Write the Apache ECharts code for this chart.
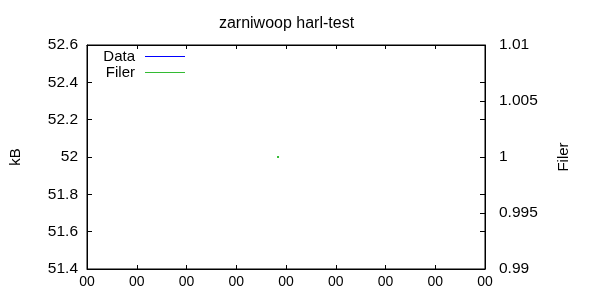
<!DOCTYPE html>
<html>
<head>
<meta charset="utf-8">
<script src="https://cdn.jsdelivr.net/npm/echarts@6/dist/echarts.min.js"></script>
<style>
html,body{margin:0;padding:0;background:#fff;}
#chart{width:600px;height:300px;}
</style>
</head>
<body>
<div id="chart"></div>
<script>
var titleText = 'zarniwoop harl-test';
var xTickLabels = ['00','00','00','00','00','00','00','00','00'];
var dataPoints = [[3.84, 52]];
var filerPoints = [[3.84, 1]];
var leftName = 'kB';
var rightName = 'Filer';

var FONT = 'Liberation Sans';
var chart = echarts.init(document.getElementById('chart'), null, {renderer:'canvas'});
var axisLineStyle = {color:'#000', width:1};
var option = {
  backgroundColor:'#fff',
  animation:false,
  title:{text:titleText, left:281.5, top:11, textAlign:'center',
    textStyle:{fontFamily:FONT, fontSize:16, fontWeight:'normal', color:'#000'}},
  legend:{
    orient:'vertical', left:93, top:44, align:'right',
    itemWidth:40, itemHeight:1, itemGap:1,
    icon:'rect',
    data:[{name:'Data'},{name:'Filer'}],
    textStyle:{fontFamily:FONT, fontSize:15, color:'#000', width:37, align:'right', padding:[0,5,0,0], lineHeight:15}
  },
  grid:{left:82, right:115, top:45, bottom:31, containLabel:false, show:true,
    borderColor:'#000', borderWidth:1, backgroundColor:'transparent'},
  xAxis:[{
    type:'value', min:0, max:8, interval:1, position:'bottom',
    axisLine:{show:true, onZero:false, lineStyle:axisLineStyle},
    axisTick:{show:true, inside:true, length:4, lineStyle:axisLineStyle},
    axisLabel:{show:true, margin:6, fontFamily:FONT, fontSize:14, color:'#000',
      formatter:function(v){ return xTickLabels[Math.round(v)]; }},
    splitLine:{show:false}
  },{
    type:'value', min:0, max:8, interval:1, position:'top',
    axisLine:{show:true, onZero:false, lineStyle:axisLineStyle},
    axisTick:{show:true, inside:true, length:4, lineStyle:axisLineStyle},
    axisLabel:{show:false}, splitLine:{show:false}
  }],
  yAxis:[{
    type:'value', min:51.4, max:52.6, interval:0.2, position:'left',
    name:leftName, nameLocation:'middle', nameGap:64, nameRotate:90,
    nameTextStyle:{fontFamily:FONT, fontSize:15, color:'#000'},
    axisLine:{show:true, onZero:false, lineStyle:axisLineStyle},
    axisTick:{show:true, inside:true, length:5, lineStyle:axisLineStyle},
    axisLabel:{margin:9, fontFamily:FONT, fontSize:15.5, color:'#000',
      formatter:function(v){ return String(+v.toFixed(1)); }},
    splitLine:{show:false}
  },{
    type:'value', min:0.99, max:1.01, interval:0.005, position:'right',
    name:rightName, nameLocation:'middle', nameGap:71, nameRotate:90,
    nameTextStyle:{fontFamily:FONT, fontSize:15, color:'#000'},
    axisLine:{show:true, onZero:false, lineStyle:axisLineStyle},
    axisTick:{show:true, inside:true, length:5, lineStyle:axisLineStyle},
    axisLabel:{margin:14, fontFamily:FONT, fontSize:15.5, color:'#000',
      formatter:function(v){ return String(+v.toFixed(3)); }},
    splitLine:{show:false}
  },{
    type:'value', min:51.4, max:52.6, interval:0.2, position:'right',
    axisLine:{show:false, onZero:false},
    axisTick:{show:true, inside:true, length:5, lineStyle:axisLineStyle},
    axisLabel:{show:false}, splitLine:{show:false}
  }],
  series:[{
    name:'Data', type:'line', xAxisIndex:0, yAxisIndex:0,
    data:dataPoints, color:'#0000ff', showSymbol:false, symbol:'none',
    lineStyle:{width:1, color:'#0000ff'}
  },{
    name:'Filer', type:'line', xAxisIndex:0, yAxisIndex:1,
    data:filerPoints, color:'#1ee61e', symbol:'rect', symbolSize:2, showSymbol:true,
    itemStyle:{color:'#33bb33'},
    lineStyle:{width:1, color:'#1ee61e'}
  }]
};
chart.setOption(option);
</script>
</body>
</html>
